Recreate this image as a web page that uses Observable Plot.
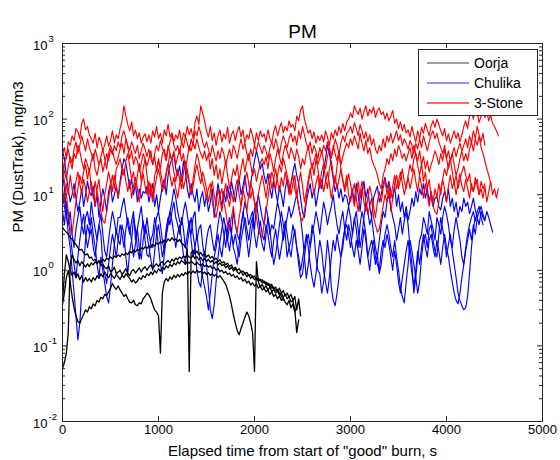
<!DOCTYPE html>
<html>
<head>
<meta charset="utf-8">
<script src="https://cdn.jsdelivr.net/npm/d3@7"></script>
<script src="https://cdn.jsdelivr.net/npm/@observablehq/plot@0.6"></script>
<style>
  body { margin: 0; background: #fff; }
  #chart svg { font-family: "Liberation Sans", Arial, sans-serif; }
</style>
</head>
<body>
<div id="chart"></div>
<script>
// ---------------- data ----------------
const seriesNames = ["Oorja", "Chulika", "3-Stone"];
const seriesColors = ["#000000", "#0000ff", "#ff0000"];
const legendLineColors = ["#808080", "#6f6fff", "#ff3b3b"];

// sampling interval (s) of each digitised run
const oorjaStep = 20;
const chulikaStep = 20;
const stoneStep = 20;

// Oorja (black) runs, PM mg/m3
const oorjaRun1 = [
  3.7, 3.4, 3.2, 3.0, 2.7, 2.6, 2.35, 2.2, 2.0, 1.85, 1.9, 1.7, 1.6, 1.65, 1.45,
  1.5, 1.35, 1.4, 1.25, 1.3, 1.15, 1.2, 1.1, 1.05, 1.15, 0.95, 1.0, 1.1, 0.9, 0.95,
  1.0, 0.88, 0.95, 1.05, 0.9, 0.85, 0.98, 1.02, 0.92, 1.0, 1.08, 0.95, 1.05, 1.12, 1.0,
  1.1, 1.18, 1.05, 1.15, 1.22, 1.12, 1.25, 1.3, 1.18, 1.28, 1.35, 1.25, 1.4, 1.32, 1.45,
  1.38, 1.5, 1.42, 1.55, 1.48, 1.6, 1.5, 1.45, 1.58, 1.42, 1.52, 1.38, 1.48, 1.35, 1.42,
  1.3, 1.4, 1.28, 1.35, 1.22, 1.3, 1.18, 1.25, 1.15, 1.2, 1.08, 1.15, 1.02, 1.1, 0.98,
  1.05, 0.95, 0.9, 0.98, 0.86, 0.92, 0.82, 0.88, 0.78, 0.84, 0.75, 0.8, 0.72, 0.76, 0.68,
  0.72, 0.64, 0.68, 0.6, 0.65, 0.56, 0.6, 0.52, 0.58, 0.5, 0.54, 0.46, 0.5, 0.44, 0.48,
  0.4, 0.45, 0.3, 0.42, 0.25
];
const oorjaRun2 = [
  0.05, 0.06, 0.08, 0.15, 1.2, 1.6, 1.4, 1.25, 1.35, 1.15, 1.3, 1.2, 1.1, 1.22, 1.12,
  1.25, 1.18, 1.3, 1.22, 1.35, 1.28, 1.4, 1.32, 1.45, 1.38, 1.5, 1.42, 1.55, 1.48, 1.6,
  1.52, 1.65, 1.58, 1.7, 1.62, 1.78, 1.7, 1.85, 1.75, 1.9, 1.82, 1.98, 1.9, 2.05, 1.95,
  2.1, 2.0, 2.2, 2.1, 2.3, 2.2, 2.4, 2.3, 2.5, 2.35, 2.6, 2.45, 2.7, 2.5, 2.6,
  2.4, 2.55, 2.3, 2.2, 2.0, 1.9, 0.046, 1.7, 1.85, 1.65, 1.8, 1.6, 1.72, 1.55, 1.68,
  1.5, 1.6, 1.45, 1.52, 1.38, 1.45, 1.3, 1.38, 1.25, 1.3, 1.18, 1.24, 1.12, 1.18, 1.05,
  1.1, 1.0, 1.05, 0.95, 0.98, 0.9, 0.94, 0.85, 0.88, 0.8, 0.84, 0.76, 0.78, 0.72, 0.75,
  0.68, 0.7, 0.63, 0.66, 0.58, 0.6, 0.54, 0.56, 0.5, 0.46, 0.4
];
const oorjaRun3 = [
  0.35, 0.5, 0.8, 1.0, 0.7, 0.45, 0.32, 0.25, 0.21, 0.2, 0.23, 0.26, 0.3, 0.28, 0.33,
  0.31, 0.36, 0.34, 0.4, 0.38, 0.44, 0.42, 0.48, 0.46, 0.52, 0.58, 0.67, 0.6, 0.56, 0.62,
  0.55, 0.5, 0.45, 0.48, 0.42, 0.38, 0.37, 0.4, 0.35, 0.34, 0.37, 0.36, 0.42, 0.45, 0.5,
  0.47, 0.42, 0.35, 0.3, 0.28, 0.25, 0.08, 0.5, 0.7, 0.78, 0.72, 0.82, 0.76, 0.86, 0.8,
  0.88, 0.82, 0.9, 0.85, 0.94, 0.88, 0.96, 0.9, 0.98, 0.92, 1.0, 0.94, 0.97, 0.9, 0.95,
  0.88, 0.93, 0.86, 0.9, 0.84, 0.88, 0.8, 0.85, 0.78, 0.72, 0.65, 0.55, 0.45, 0.35, 0.26,
  0.2, 0.16, 0.14, 0.17, 0.2, 0.24, 0.28, 0.25, 0.2, 0.15, 0.046, 1.3, 0.7, 0.6, 0.65,
  0.58, 0.62, 0.55, 0.6, 0.52, 0.56, 0.5, 0.54, 0.47, 0.5, 0.44, 0.48, 0.42, 0.45, 0.38,
  0.4, 0.3, 0.15, 0.22
];
const oorjaRun4 = [
  0.4, 0.9, 1.6, 1.3, 1.0, 0.85, 0.95, 0.8, 0.9, 0.75, 0.85, 0.7, 0.8, 0.72, 0.78,
  0.7, 0.8, 0.74, 0.85, 0.78, 0.9, 0.82, 0.95, 0.86, 0.8, 0.9, 0.84, 0.78, 0.88, 0.82,
  0.76, 0.86, 0.8, 0.9, 0.84, 0.78, 0.7, 0.75, 0.68, 0.72, 0.8, 0.76, 0.85, 0.8, 0.9,
  0.85, 0.95, 0.88, 1.0, 0.92, 1.05, 0.98, 1.1, 1.02, 1.15, 1.08, 1.2, 1.12, 1.25, 1.18,
  1.3, 1.22, 1.35, 1.28, 1.2, 1.3, 1.24, 1.32, 1.25, 1.18, 1.28, 1.2, 1.15, 1.22, 1.12,
  1.18, 1.1, 1.15, 1.05, 1.1, 1.0, 1.06, 0.96, 1.0, 0.92, 0.96, 0.88, 0.92, 0.84, 0.88,
  0.8, 0.84, 0.76, 0.8, 0.72, 0.76, 0.68, 0.72, 0.64, 0.68, 0.62, 0.66, 0.58, 0.62, 0.55,
  0.58, 0.52, 0.55, 0.48, 0.52, 0.45, 0.48, 0.42, 0.46, 0.4, 0.43, 0.38, 0.35, 0.4, 0.32,
  0.36, 0.28, 0.33
];

// Chulika (blue) runs
const chulikaRun1 = [
  38, 30, 18, 12, 8, 10, 14, 9, 6, 8, 12, 7, 10, 15, 11,
  9.7, 13, 7, 10, 5, 8, 12, 9, 6, 11, 14, 8, 10, 13, 9,
  15, 22, 30, 26, 18, 12, 16, 10, 14, 8, 12, 9, 11, 10.5, 13,
  8, 11, 14, 7, 10, 6, 9, 13, 16, 10, 18, 25, 30, 35, 22,
  18, 24, 15, 28, 20, 12, 9, 14, 10, 8, 12, 6, 9, 11, 7,
  10, 6, 8, 12, 5, 9, 14, 10, 7, 11, 8, 13, 9, 15, 11,
  8, 12, 16, 10, 13, 18, 11, 9, 14, 20, 28, 38, 30, 22, 26,
  18, 14, 19, 12, 9, 15, 11, 8, 13, 10, 7, 12, 16, 11, 14,
  20, 26, 18, 14, 9, 6, 5, 8, 11, 14, 9, 12, 7, 10, 15,
  12, 20, 30, 45, 35, 24, 16, 11, 14, 9, 12, 8, 10, 9.5, 7,
  9, 12, 8, 14, 10, 6, 11, 15, 9, 12, 7, 5, 9, 11, 13,
  8, 10, 14, 17, 12, 15, 11, 9, 13, 7, 10, 6, 8, 5, 7,
  4.6, 6, 9, 7, 11, 8, 12, 10, 14, 9, 12, 8, 11, 7, 9,
  9.5, 7, 6.3, 9, 11, 8, 12, 7, 9, 6, 8, 5, 7, 6, 9,
  7, 8, 5.6, 7, 9, 6.3, 5, 6, 7, 5.5, 4.6, 6, 5, 4, 3.2
];
const chulikaRun2 = [
  20, 12, 6, 3, 2, 1, 0.5, 0.25, 0.12, 0.2, 0.5, 1.2, 2.5, 4, 3,
  5, 3, 2, 1.2, 0.8, 1.5, 1, 0.67, 0.45, 0.37, 0.6, 1.2, 2.2, 3.5, 2.5,
  2.2, 4, 3, 1.5, 0.9, 1.8, 2.5, 5, 3.5, 2, 1.4, 3, 4.5, 2.5, 1.6,
  1.5, 2.5, 3, 5, 3.5, 2, 1.2, 0.9, 1.6, 2.8, 4, 6, 4.5, 3, 2,
  3, 4, 2.5, 1.6, 1.2, 2.2, 3.5, 5, 3, 2, 1, 0.7, 0.6, 1.1, 1.8,
  1.2, 0.6, 0.3, 0.23, 0.35, 0.7, 1.5, 2.4, 3.5, 5, 3.5, 2.5, 4, 3, 2,
  1.6, 1.2, 2.2, 3.5, 6, 4, 2.5, 1.5, 2.5, 4, 6.5, 8, 5, 3, 2.2,
  1.8, 3, 5, 3.5, 2, 1.2, 1.6, 2.5, 4, 6, 4, 3, 1.5, 2, 2.5,
  4, 3, 2, 1.2, 0.8, 0.9, 1.5, 2.5, 3, 2, 4, 3, 1.5, 1, 0.9,
  0.5, 0.7, 1.2, 2.5, 1.5, 0.6, 0.4, 0.34, 0.5, 0.8, 1.5, 2, 3.5, 4, 3,
  2, 3, 5, 3.5, 2, 4, 6, 4.5, 3, 1.5, 2, 2.5, 1.8, 1.2, 1.6,
  0.9, 1.2, 2, 3, 4, 3, 2, 1.5, 2.5, 1.5, 1, 0.6, 0.45, 0.37, 0.7,
  1.2, 2.5, 1.8, 1.2, 0.8, 0.5, 0.7, 1.5, 2.5, 3, 2, 3.5, 4, 2.5, 1.8,
  1.5, 3, 5, 3.5, 2.5, 1.5, 2.2, 3, 1.8, 1.2, 0.8, 0.5, 0.4, 0.34, 0.3,
  0.32, 0.45, 0.9, 2, 3.5, 5
];
const chulikaRun3 = [
  10, 7, 5, 4, 6, 3, 2, 3.5, 5, 7, 4, 3, 5, 6, 4,
  8, 5, 3.5, 2.5, 4, 5.5, 3, 1.8, 1.5, 2.5, 4, 6, 4.5, 3, 5,
  5, 7, 9, 6, 4, 3, 4.5, 6, 2.5, 3.5, 5, 7, 4, 3, 5,
  3, 2.2, 2, 3.5, 5, 6, 4, 2.5, 1.8, 3, 4.5, 6, 8, 12, 9,
  6, 4.5, 4, 6, 8, 5.5, 3.5, 3, 5, 6, 2.5, 3.5, 4, 2.2, 1.5,
  2.5, 3.5, 4, 2.5, 1.8, 2.5, 4, 6, 4.5, 3, 2, 3.5, 5, 3, 6,
  4, 3, 2.5, 4, 5.5, 8, 6, 4, 5, 6, 3.5, 7, 10, 7, 5,
  4, 7, 5, 3, 4, 3.5, 5.5, 8, 6, 4, 2.5, 3.5, 5, 7, 5,
  6, 8, 10, 7, 5, 3, 1.5, 0.78, 1.2, 2, 3, 4, 6, 4.5, 3,
  5, 8, 6, 4, 5.5, 7, 10, 6, 4, 3, 4.5, 6, 3.5, 5, 7,
  5, 3, 4.5, 6, 3.5, 2, 3, 5, 8, 6, 4, 5, 3, 2, 1.5,
  2.5, 4, 6, 5, 8, 10, 7, 5, 4, 2.5, 3.5, 5, 3, 4.5, 6,
  4, 2, 1.2, 0.5, 0.8, 1.5, 2.5, 3, 5, 4, 3, 6, 4.5, 3.5, 2.5,
  5, 4, 3, 5, 7, 5.5, 4, 2.5, 2, 3.5, 5, 3.5, 2.5, 1.5, 1.2,
  2, 3, 4, 5, 6, 4.5, 6, 7, 5, 4
];
const chulikaRun4 = [
  6, 4, 8, 5, 3, 1.8, 1.2, 0.8, 1.5, 2.5, 4, 5.5, 3, 2, 2.8,
  3.5, 2, 1.5, 2.5, 4, 3, 1.2, 0.9, 0.67, 1.2, 2, 3, 2.2, 1.5, 2.5,
  4, 3, 2, 3.5, 5, 3.5, 2.5, 1.5, 2.2, 3.5, 2, 1.4, 2.5, 4, 3,
  2, 1.4, 1, 1.8, 3, 4, 2.5, 1.5, 2, 3.5, 5, 4, 6, 8, 5,
  4, 3, 5, 3.5, 2, 3, 4.5, 2.5, 1.5, 2, 3, 1.8, 1.2, 0.8, 0.6,
  0.45, 0.3, 0.5, 0.9, 1.5, 2, 3, 2, 1.5, 2.5, 4, 2.5, 1.8, 3, 2.2,
  3, 2, 1.5, 2.5, 3.5, 5, 3.5, 2.5, 4, 5, 3, 2, 3, 4.5, 3,
  2.5, 4, 3, 2, 1.5, 2.5, 3.5, 2.2, 1.4, 2, 3, 4.5, 3, 2, 1.5,
  2.5, 3.5, 2, 1.5, 1, 1.4, 2, 3, 2, 1.2, 0.8, 0.6, 0.9, 1.5, 2.5,
  1.8, 1, 0.7, 0.5, 0.8, 1.5, 2.5, 1.8, 3, 2, 1.5, 2.5, 3.5, 2.5, 4,
  3, 2, 1.5, 2.5, 1.8, 1.2, 2, 3.5, 2.5, 1.5, 1, 1.8, 2.5, 1.5, 1.2,
  1, 1.8, 2.5, 2, 3, 2.2, 1.5, 1, 1.8, 1.2, 0.7, 0.5, 0.8, 1.2, 1.8,
  2.5, 1.5, 0.9, 0.6, 1, 1.8, 1.2, 2, 3, 2, 1.5, 2.5, 3, 2, 1.5,
  2.5, 1.8, 1.2, 2, 3, 2, 1.5, 1, 0.7, 0.5, 0.4, 0.36, 0.5, 0.8, 1.2,
  1.8, 2.5, 3.5, 2.5, 4, 3, 5, 4, 6, 5, 4.5
];

// 3-Stone (red) runs
const stoneRun1 = [
  35, 42, 30, 50, 45, 60, 52, 75, 68, 55, 88, 100, 72, 80, 62,
  55, 48, 65, 42, 58, 50, 38, 46, 60, 44, 52, 70, 48, 62, 55,
  75, 95, 150, 110, 85, 70, 92, 60, 72, 55, 66, 48, 58, 64, 50,
  62, 48, 70, 58, 80, 55, 65, 48, 72, 60, 85, 58, 66, 50, 62,
  55, 72, 48, 66, 58, 80, 62, 75, 55, 90, 110, 85, 150, 120, 95,
  70, 58, 80, 52, 66, 45, 60, 72, 50, 64, 55, 78, 48, 62, 70,
  52, 68, 80, 58, 72, 48, 62, 55, 75, 60, 45, 66, 52, 70, 58,
  64, 50, 72, 56, 48, 68, 82, 60, 75, 90, 66, 80, 70, 95, 78,
  85, 70, 110, 95, 130, 150, 100, 80, 65, 72, 55, 68, 48, 60, 52,
  62, 50, 70, 58, 45, 66, 55, 72, 60, 80, 65, 88, 70, 92, 100,
  120, 105, 150, 130, 115, 140, 100, 125, 150, 110, 135, 120, 145, 105, 130,
  140, 115, 125, 100, 120, 95, 110, 130, 88, 100, 75, 92, 70, 85, 65,
  72, 58, 80, 62, 50, 70, 55, 78, 65, 88, 72, 60, 82, 95, 78,
  100, 85, 70, 60, 75, 52, 64, 48, 58, 70, 55, 66, 50, 62, 80,
  95, 75, 110, 130, 100, 150, 120, 90, 110, 140, 105, 125, 95, 115, 88,
  80, 70, 60
];
const stoneRun2 = [
  22, 15, 10, 6, 3.5, 3, 5, 8, 12, 18, 14, 20, 25, 16, 22,
  12, 9, 15, 11, 8, 6, 4.5, 4.2, 6, 9, 13, 18, 12, 22, 25,
  30, 22, 18, 28, 35, 24, 16, 20, 12, 18, 26, 15, 22, 30, 18,
  10, 14, 9, 18, 22, 30, 20, 15, 12, 18, 25, 35, 28, 20, 15,
  22, 16, 12, 20, 28, 18, 14, 10, 16, 24, 35, 28, 20, 15, 12,
  9, 12, 14, 8, 6, 5, 7, 10, 12, 8, 6, 4, 3.5, 5, 7,
  4, 3.2, 5, 7, 12, 9, 6, 10, 15, 11, 8, 5, 3.5, 3, 2.7,
  4, 6, 9, 14, 20, 16, 12, 18, 25, 20, 30, 24, 18, 14, 10,
  14, 18, 10, 7, 5, 4.5, 6, 9, 14, 20, 26, 18, 30, 22, 14,
  20, 26, 16, 12, 22, 28, 18, 14, 24, 35, 22, 16, 12, 18, 10,
  8, 11, 14, 9, 6, 10, 15, 12, 8, 5.5, 7, 9, 5, 4, 3.2,
  3.5, 5, 7, 10, 8, 12, 6, 9, 14, 18, 12, 16, 22, 15, 12,
  18, 25, 20, 30, 35, 24, 18, 26, 15, 20, 12, 16, 9, 7, 6,
  5.5, 8, 12, 16, 22, 18, 25, 30, 20, 14, 18, 12, 16, 20, 24,
  18, 15, 19, 12, 11, 14, 16, 10, 12, 9, 13, 8, 11, 15, 10,
  12, 9, 12
];
const stoneRun3 = [
  18, 25, 32, 40, 28, 22, 35, 30, 45, 38, 28, 22, 30, 25, 20,
  28, 35, 22, 18, 25, 32, 40, 30, 22, 35, 45, 38, 30, 25, 32,
  40, 48, 35, 55, 42, 30, 38, 25, 32, 28, 20, 26, 35, 30, 24,
  30, 38, 25, 32, 20, 28, 22, 35, 40, 30, 45, 35, 28, 38, 25,
  32, 40, 28, 35, 22, 30, 45, 38, 50, 40, 55, 42, 35, 30, 38,
  28, 35, 22, 30, 18, 25, 16, 22, 14, 20, 28, 18, 12, 16, 22,
  18, 25, 15, 22, 30, 20, 28, 35, 25, 18, 22, 15, 20, 26, 30,
  25, 32, 22, 35, 28, 20, 30, 40, 32, 25, 35, 45, 38, 30, 42,
  35, 28, 40, 32, 22, 30, 25, 35, 45, 30, 22, 28, 35, 25, 30,
  38, 28, 22, 32, 40, 30, 45, 35, 28, 38, 25, 32, 40, 48, 42,
  55, 45, 60, 50, 40, 65, 48, 38, 52, 35, 42, 30, 25, 22, 18,
  14, 12, 18, 22, 30, 25, 35, 28, 40, 32, 45, 38, 30, 35, 28,
  35, 42, 30, 45, 35, 28, 38, 25, 32, 22, 28, 20, 25, 30, 38,
  32, 25, 35, 28, 40, 30, 22, 28, 35, 25, 18, 22, 30, 38, 28,
  35, 28, 40, 50, 38, 55, 45, 60, 42, 35, 28, 22, 18, 14
];
const stoneRun4 = [
  28, 20, 16, 24, 32, 26, 40, 50, 35, 45, 60, 48, 38, 55, 42,
  35, 28, 40, 32, 25, 30, 20, 26, 35, 28, 40, 34, 45, 38, 50,
  42, 60, 70, 55, 45, 38, 50, 42, 35, 45, 30, 38, 48, 40, 32,
  40, 30, 25, 35, 45, 38, 52, 42, 35, 28, 40, 50, 62, 45, 38,
  45, 35, 50, 42, 60, 48, 38, 55, 45, 70, 60, 80, 65, 50, 42,
  50, 40, 32, 45, 35, 28, 38, 30, 42, 35, 25, 32, 40, 30, 45,
  38, 30, 42, 55, 40, 48, 35, 28, 40, 32, 45, 38, 50, 42, 35,
  45, 38, 30, 42, 50, 40, 55, 45, 35, 48, 60, 50, 42, 55, 65,
  50, 60, 45, 70, 55, 80, 62, 48, 40, 50, 35, 45, 38, 30, 42,
  35, 45, 38, 50, 42, 32, 40, 55, 45, 35, 48, 60, 50, 65, 70,
  80, 65, 90, 75, 60, 85, 70, 55, 68, 50, 62, 45, 55, 40, 35,
  45, 38, 55, 42, 60, 50, 65, 48, 58, 70, 52, 62, 45, 55, 48,
  40, 52, 45, 35, 48, 40, 55, 42, 60, 48, 38, 50, 62, 70, 55,
  65, 50, 42, 35, 45, 30, 38, 28, 35, 42, 32, 40, 48, 38, 45,
  55, 42, 60, 48, 70, 55, 80, 62, 50, 65, 45
];
const stoneRun5 = [
  12, 8, 14, 10, 18, 12, 9, 15, 20, 14, 10, 16, 12, 8, 11,
  15, 10, 7, 12, 16, 9, 6, 10, 14, 20, 15, 11, 18, 13, 9,
  14, 18, 22, 15, 11, 16, 9, 13, 17, 12, 8, 14, 19, 13, 10,
  15, 11, 8, 12, 17, 22, 16, 11, 14, 20, 26, 18, 13, 17, 12,
  9, 14, 18, 12, 16, 22, 15, 10, 13, 19, 25, 18, 14, 20, 16,
  12, 8, 11, 15, 10, 7, 12, 9, 6, 10, 14, 9, 7, 11, 8,
  12, 16, 10, 7, 11, 15, 20, 14, 9, 12, 8, 6, 10, 14, 18,
  13, 9, 14, 19, 12, 16, 22, 15, 11, 17, 13, 20, 15, 10, 14,
  18, 12, 9, 14, 20, 13, 8, 11, 16, 22, 15, 10, 14, 18, 12,
  16, 11, 15, 20, 14, 9, 13, 18, 12, 16, 22, 15, 11, 14, 19,
  14, 10, 7, 11, 15, 9, 12, 8, 6, 9, 13, 10, 7, 5, 8,
  11, 8, 12, 16, 10, 14, 9, 13, 18, 12, 15, 20, 14, 10, 13,
  17, 12, 16, 22, 15, 11, 18, 13, 9, 14, 10, 7, 11, 8, 12,
  9, 14, 10, 16, 12, 8, 13, 18, 12, 15, 10, 14, 19, 13, 11,
  16, 12, 9, 14, 11, 17, 13, 10, 15, 12, 14
];

// axis ticks
const xTicks = [0, 1000, 2000, 3000, 4000, 5000];
const yTicks = [0.01, 0.1, 1, 10, 100, 1000];
const yExponents = ["-2", "-1", "0", "1", "2", "3"];
const yMinorTicks = [0.01, 0.1, 1, 10, 100].flatMap(d => [2, 3, 4, 5, 6, 7, 8, 9].map(m => d * m));

const titleText = "PM";
const xLabel = "Elapsed time from start of \"good\" burn, s";
const yLabel = "PM (DustTrak), mg/m3";

// ---------------- build table ----------------
const runs = [
  { series: 1, step: chulikaStep, values: chulikaRun1 },
  { series: 1, step: chulikaStep, values: chulikaRun2 },
  { series: 1, step: chulikaStep, values: chulikaRun3 },
  { series: 1, step: chulikaStep, values: chulikaRun4 },
  { series: 2, step: stoneStep, values: stoneRun1 },
  { series: 2, step: stoneStep, values: stoneRun2 },
  { series: 2, step: stoneStep, values: stoneRun3 },
  { series: 2, step: stoneStep, values: stoneRun4 },
  { series: 2, step: stoneStep, values: stoneRun5 },
  { series: 0, step: oorjaStep, values: oorjaRun1 },
  { series: 0, step: oorjaStep, values: oorjaRun2 },
  { series: 0, step: oorjaStep, values: oorjaRun3 },
  { series: 0, step: oorjaStep, values: oorjaRun4 }
];
const rows = runs.flatMap((r, k) =>
  r.values.map((v, i) => ({ series: seriesNames[r.series], run: k, t: i * r.step, pm: v })));

// ---------------- layout ----------------
const W = 560, H = 460;
const mL = 62, mR = 18, mT = 43, mB = 39;
const plotW = W - mL - mR, plotH = H - mT - mB;
const axisColor = "#262626";
const seriesWidths = [1.3, 1.15, 1.15];

const lineMarks = [1, 2, 0].map(s =>
  Plot.line(rows.filter(d => d.series === seriesNames[s]), {
    x: "t", y: "pm", z: "run", stroke: seriesColors[s], strokeWidth: seriesWidths[s]
  }));

// legend rows, drawn with Plot marks in the top-right of the frame
const legendRows = seriesNames.map((name, i) => ({ name, i }));

const chart = Plot.plot({
  width: W, height: H,
  marginLeft: mL, marginRight: mR, marginTop: mT, marginBottom: mB,
  style: { background: "#fff", fontFamily: "'Liberation Sans', Arial, sans-serif", fontSize: "13px", color: "#000" },
  x: { domain: [0, 5000], axis: null },
  y: { type: "log", domain: [0.01, 1000], axis: null },
  marks: [
    ...lineMarks,
    Plot.frame({ stroke: axisColor }),
    // inward ticks, all four sides
    Plot.ruleX(xTicks, { x: d => d, insetTop: plotH - 5, stroke: axisColor }),
    Plot.ruleX(xTicks, { x: d => d, insetBottom: plotH - 5, stroke: axisColor }),
    Plot.ruleY(yTicks, { y: d => d, insetRight: plotW - 5, stroke: axisColor }),
    Plot.ruleY(yTicks, { y: d => d, insetLeft: plotW - 5, stroke: axisColor }),
    Plot.ruleY(yMinorTicks, { y: d => d, insetRight: plotW - 3, stroke: axisColor }),
    Plot.ruleY(yMinorTicks, { y: d => d, insetLeft: plotW - 3, stroke: axisColor }),
    // tick labels
    Plot.text(xTicks, { x: d => d, frameAnchor: "bottom", dy: 12, text: d => String(d), fontSize: 13, fill: "#000" }),
    Plot.text(yTicks, { y: d => d, frameAnchor: "left", dx: -15, dy: 2, textAnchor: "end", text: () => "10", fontSize: 13, fill: "#000" }),
    Plot.text(yTicks, { y: d => d, frameAnchor: "left", dx: -14, dy: -5, textAnchor: "start", text: (d, i) => yExponents[i], fontSize: 9.5, fill: "#000" }),
    // title and axis labels
    Plot.text([titleText], { frameAnchor: "top", dy: -19, text: d => d, fontSize: 19, fill: "#000" }),
    Plot.text([xLabel], { frameAnchor: "bottom", dy: 34, text: d => d, fontSize: 15, fill: "#000" }),
    Plot.text([yLabel], { frameAnchor: "left", dx: -44, rotate: -90, text: d => d, fontSize: 15, fill: "#000" })
  ]
});

// legend box (MATLAB style, inside upper right)
const svg = d3.select(chart);
const lg = svg.append("g")
  .attr("font-family", "'Liberation Sans', Arial, sans-serif")
  .attr("font-size", 14)
  .attr("text-anchor", "start");
const lx = 418, ly = 49, lw = 119, lh = 66;
lg.append("rect").attr("x", lx + 0.5).attr("y", ly + 0.5).attr("width", lw).attr("height", lh)
  .attr("fill", "#fff").attr("stroke", axisColor);
legendRows.forEach(({ name, i }) => {
  const yy = ly + 14 + i * 20;
  lg.append("rect")
    .attr("x", lx + 9).attr("y", yy - 0.75)
    .attr("width", 42).attr("height", 1.5)
    .attr("fill", legendLineColors[i]);
  lg.append("text").attr("x", lx + 56).attr("y", yy).attr("dy", "0.35em")
    .attr("text-anchor", "start").attr("fill", "#000").text(name);
});

document.getElementById("chart").appendChild(chart);
</script>
</body>
</html>
